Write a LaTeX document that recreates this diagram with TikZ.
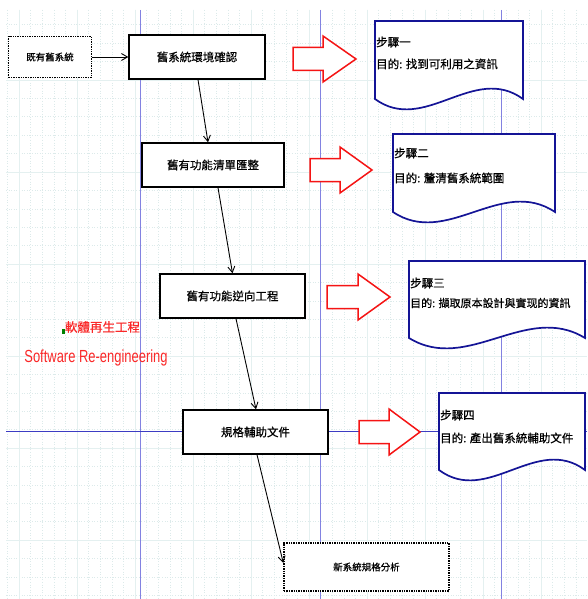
\documentclass[tikz,border=0pt]{standalone}
\usepackage{fontspec}
\usetikzlibrary{arrows.meta}
\newfontfamily\cjk[FakeBold=0.5]{Noto Sans CJK TC}
\newfontfamily\narrowsans[FakeStretch=0.74]{Liberation Sans}
\definecolor{gridminor}{RGB}{220,234,234}
\definecolor{gridmajor}{RGB}{228,240,240}
\definecolor{guideblue}{RGB}{130,130,225}
\definecolor{guidebluedark}{RGB}{60,60,195}
\definecolor{docblue}{RGB}{20,20,150}
\definecolor{redline}{RGB}{245,20,20}
\definecolor{redtextc}{RGB}{250,40,40}
\newcommand\redarrow[4]{% tail, base, tip, ymid
  \draw[blockarrow] (#1,#4-11.5) -- (#2,#4-11.5) -- (#2,#4-23) -- (#3,#4) -- (#2,#4+23) -- (#2,#4+11.5) -- (#1,#4+11.5) -- cycle;}
\newcommand\docshape[4]{% x1, x2, ytop, ybottom
  \draw[docstyle] (#1,#4) -- (#1,#3) -- (#2,#3) -- (#2,#4)
    .. controls ({#2-(#2-#1)/3},#4-36) and ({#1+(#2-#1)/3},#4+36) .. (#1,#4) -- cycle;}
\begin{document}
\begin{tikzpicture}[x=1pt,y=-1pt,
  proc/.style={draw=black, line width=1.4pt, fill=white, inner sep=0pt,
    minimum height=44pt, font=\cjk\fontsize{11.5}{13}\selectfont},
  term/.style={draw=black, line width=1.4pt, densely dotted, fill=white, inner sep=0pt,
    font=\cjk\fontsize{9.5}{11}\selectfont},
  conn/.style={-{Straight Barb[length=6pt,width=7pt]}, line width=0.9pt, black},
  blockarrow/.style={draw=redline, line width=1.5pt, fill=white, line join=miter},
  docstyle/.style={draw=docblue, line width=1.7pt, fill=white},
  doctext/.style={anchor=west, inner sep=0pt, font=\cjk\fontsize{11.5}{13}\selectfont},
]
\useasboundingbox (0,0) rectangle (587,599);
\fill[white] (0,0) rectangle (587,599);
% grid
\begin{scope}
\clip (6,10) rectangle (587,599);
\foreach \k in {-1,...,48} {
  \draw[gridminor, line width=0.6pt, dotted] ({19+11.6*\k},10) -- ({19+11.6*\k},599);
}
\foreach \k in {-8,...,23} {
  \draw[gridminor, line width=0.6pt, dotted] (6,{172+18.4*\k}) -- (587,{172+18.4*\k});
}
\foreach \m in {0,...,9} {
  \draw[gridmajor, line width=0.8pt] ({19+58*\m},10) -- ({19+58*\m},599);
}
\foreach \m in {-1,...,4} {
  \draw[gridmajor, line width=0.8pt] (6,{172+92*\m}) -- (587,{172+92*\m});
}
\end{scope}
% guide lines
\foreach \gx in {140,320,501} {
  \draw[guideblue, line width=1pt] (\gx,10) -- (\gx,599);
}
\draw[guidebluedark, line width=1pt] (6,431) -- (587,431);
% process boxes
\node[term, minimum width=83pt, minimum height=41pt] (b1) at (50,57) {既有舊系統};
\node[proc, minimum width=136pt] (b2) at (197,57) {舊系統環境確認};
\node[proc, minimum width=142pt] (b3) at (213,165) {舊有功能清單匯整};
\node[proc, minimum width=145pt] (b4) at (232.5,296) {舊有功能逆向工程};
\node[proc, minimum width=145pt] (b5) at (255.5,432) {規格輔助文件};
\node[term, minimum width=165pt, minimum height=48pt] (b6) at (366.5,567) {新系統規格分析};
% connectors
\draw[conn] (b1.east) -- (b2.west);
\draw[conn] ([xshift=1pt]b2.south) -- ([xshift=-5pt]b3.north);
\draw[conn] ([xshift=5pt]b3.south) -- ([xshift=0pt]b4.north);
\draw[conn] ([xshift=3.5pt]b4.south) -- ([xshift=0.5pt]b5.north);
\draw[conn] ([xshift=1.5pt]b5.south) -- ([yshift=4pt]b6.west);
% red block arrows
\redarrow{293}{323}{356}{59}
\redarrow{310}{340}{372}{170}
\redarrow{327}{358}{390}{297}
\redarrow{359}{389}{420}{432}
% documents
\docshape{375}{523}{21}{99}
\docshape{393}{555}{134}{212}
\docshape{409}{585}{261}{338}
\docshape{439}{585}{393}{470}
\node[doctext] (s1) at (376,42) {步驟一};
\node[doctext] (g1) at (376,64) {目的: 找到可利用之資訊};
\node[doctext] (s2) at (394,153) {步驟二};
\node[doctext] (g2) at (394,178) {目的: 釐清舊系統範圍};
\node[doctext] (s3) at (410,283) {步驟三};
\node[doctext, font=\cjk\fontsize{11}{13}\selectfont] (g3) at (410,303) {目的: 擷取原本設計與實现的資訊};
\node[doctext] (s4) at (440,415) {步驟四};
\node[doctext] (g4) at (440,438) {目的: 產出舊系統輔助文件};
% red titles
\fill[green!50!black] (61.5,329) rectangle (65,334);
\node[inner sep=0pt, text=redtextc, font=\cjk\fontsize{12.5}{14}\selectfont] (t1) at (102.5,327) {軟體再生工程};
\node[inner sep=0pt, text=redtextc, font=\narrowsans\fontsize{17.5}{20}\selectfont] (t2) at (96,358) {Software Re-engineering};
\end{tikzpicture}
\end{document}
